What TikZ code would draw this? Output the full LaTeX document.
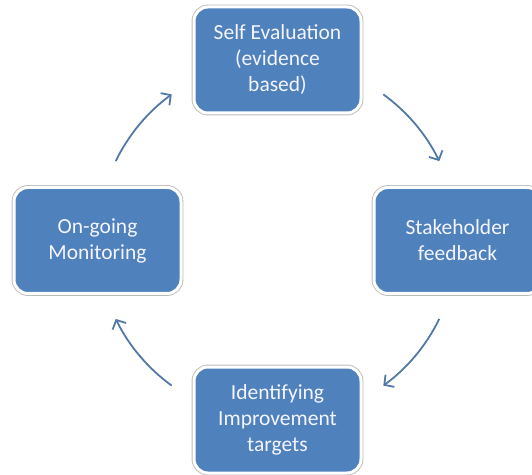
\documentclass[tikz,border=0pt]{standalone}
\usepackage{fontspec}
\setmainfont{Carlito}
\usetikzlibrary{arrows.meta}
\definecolor{boxblue}{HTML}{4F81BD}
\definecolor{arrowblue}{HTML}{5279A6}
\definecolor{edgegray}{HTML}{BBBBBB}
\begin{document}
\begin{tikzpicture}[x=1pt,y=1pt,
  cyclebox/.style={rectangle, rounded corners=14pt, fill=boxblue, draw=white, line width=3pt,
    preaction={draw=edgegray, line width=4.8pt},
    minimum width=167pt, minimum height=106pt, inner sep=0pt,
    text=white!96!blue, align=center,
    font=\fontsize{21.5}{26}\selectfont},
  cyclearrow/.style={draw=arrowblue, line width=1.8pt,
    -{Straight Barb[length=7pt,width=15pt,line width=1.8pt]}}]
\useasboundingbox (0,0) rectangle (532,474);
\coordinate (c) at (277.5,234);
\node[cyclebox] (top) at (277.5,414) {Self Evaluation\\(evidence\\based)};
\node[cyclebox] (right) at (457.5,233.5) {Stakeholder\\feedback};
\node[cyclebox] (bottom) at (277.5,54) {Identifying\\Improvement\\targets};
\node[cyclebox] (left) at (97.5,233.5) {On-going\\Monitoring};
\draw[cyclearrow] ([shift={(54:180)}]c) arc[start angle=54, end angle=26, radius=180];
\draw[cyclearrow] ([shift={(-26:180)}]c) arc[start angle=-26, end angle=-54, radius=180];
\draw[cyclearrow] ([shift={(-126:180)}]c) arc[start angle=-126, end angle=-154, radius=180];
\draw[cyclearrow] ([shift={(154:180)}]c) arc[start angle=154, end angle=126, radius=180];
\end{tikzpicture}
\end{document}
